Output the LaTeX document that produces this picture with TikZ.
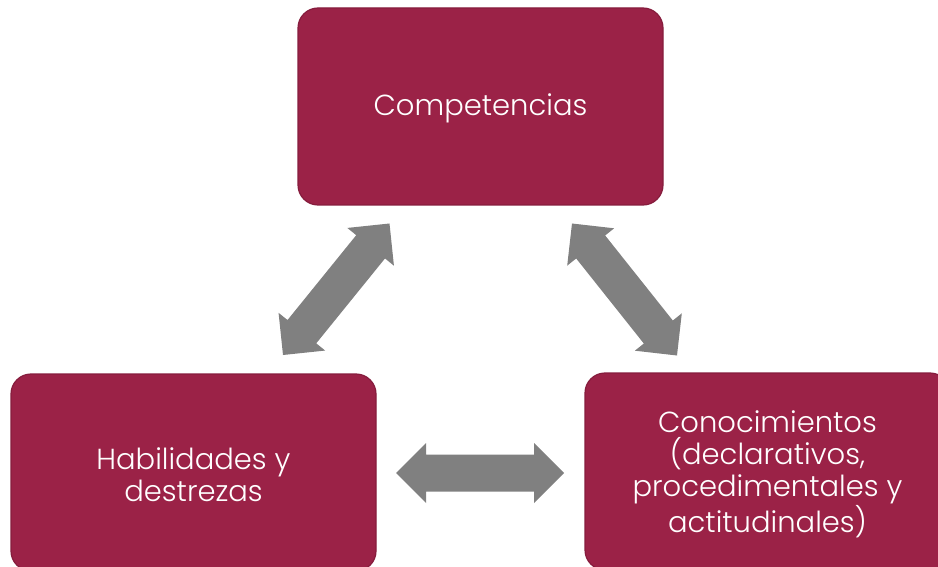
\documentclass[tikz,border=0pt]{standalone}
\usepackage{fontspec}
\setmainfont{Poppins Light}
\usetikzlibrary{calc}
\definecolor{guinda}{HTML}{9B2247}
\definecolor{guindaborde}{HTML}{861C3D}
\definecolor{flecha}{HTML}{808080}
\newcommand{\dblarrow}[2]{%
  \fill[arrowfill] (#1)
    -- ($($(#1)!30pt!(#2)$)!30pt!90:(#2)$)
    -- ($($(#1)!30pt!(#2)$)!18.5pt!90:(#2)$)
    -- ($($(#2)!30pt!(#1)$)!18.5pt!-90:(#1)$)
    -- ($($(#2)!30pt!(#1)$)!30pt!-90:(#1)$)
    -- (#2)
    -- ($($(#2)!30pt!(#1)$)!30pt!90:(#1)$)
    -- ($($(#2)!30pt!(#1)$)!18.5pt!90:(#1)$)
    -- ($($(#1)!30pt!(#2)$)!18.5pt!-90:(#2)$)
    -- ($($(#1)!30pt!(#2)$)!30pt!-90:(#2)$)
    -- cycle;}
\begin{document}
\begin{tikzpicture}[x=1pt,y=-1pt,
  box/.style={rectangle, rounded corners=20pt, fill=guinda, draw=guindaborde,
    line width=1.2pt, minimum width=365pt, minimum height=197pt, inner sep=0pt},
  boxtext/.style={align=center, text=white, font=\fontsize{29}{32}\selectfont, anchor=center, inner sep=0pt},
  arrowfill/.style={fill=flecha}]
\useasboundingbox (0,0) rectangle (938,567);
\node[box] (comp) at (480.5,106.5) {};
\node[box] (hab) at (193.5,472.5) {};
\node[box] (con) at (767.5,471.5) {};
\node[boxtext] (comptext) at ([yshift=-2pt]comp.center) {Competencias};
\node[boxtext] (habtext) at ([yshift=-2pt]hab.center) {Habilidades y\\destrezas};
\node[boxtext] (context) at ([yshift=-3pt]con.center) {Conocimientos\\(declarativos,\\procedimentales y\\actitudinales)};
\coordinate (l1) at (283,355);
\coordinate (l2) at (389.5,223.5);
\coordinate (r1) at (572,223.5);
\coordinate (r2) at (677,355.5);
\coordinate (h1) at (396,473);
\coordinate (h2) at (564,473);
\dblarrow{l1}{l2}
\dblarrow{r1}{r2}
\dblarrow{h1}{h2}
\end{tikzpicture}
\end{document}
